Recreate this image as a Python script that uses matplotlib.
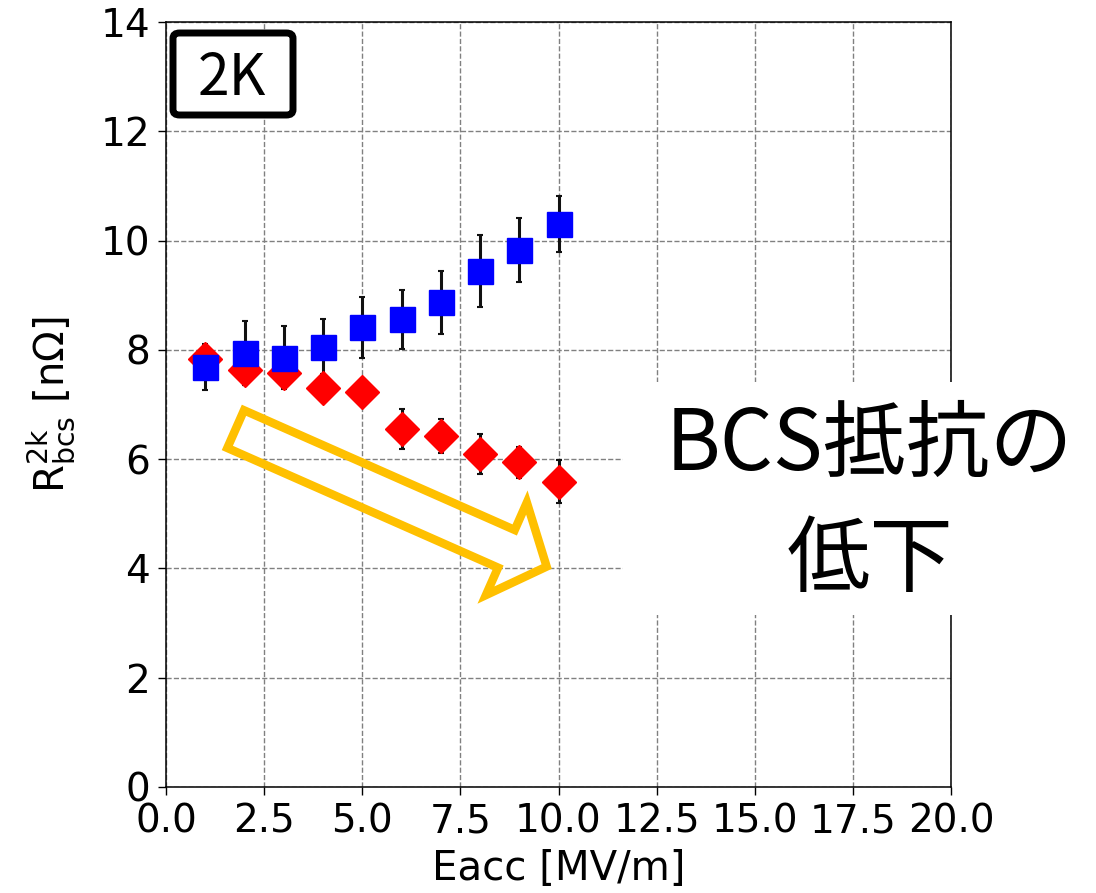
import numpy as np
import matplotlib
matplotlib.use("Agg")
import matplotlib.pyplot as plt
import matplotlib.patches as mpatches

# Eacc points [MV/m]
eacc = [1, 2, 3, 4, 5, 6, 7, 8, 9, 10]

# R_bcs at 2K [nOhm], two data sets with errors
r_blue = [7.68, 7.94, 7.86, 8.06, 8.41, 8.56, 8.87, 9.45, 9.83, 10.30]
e_blue = [0.42, 0.58, 0.58, 0.50, 0.55, 0.54, 0.58, 0.66, 0.58, 0.51]
r_red = [7.83, 7.64, 7.57, 7.31, 7.22, 6.55, 6.43, 6.09, 5.94, 5.59]
e_red = [0.20, 0.28, 0.25, 0.25, 0.20, 0.37, 0.31, 0.37, 0.29, 0.40]

W, H = 1096, 893
fig = plt.figure(figsize=(W / 100, H / 100), dpi=100)
ax = fig.add_axes([166 / W, 1 - 787 / H, (951 - 166) / W, (787 - 22) / H])

ax.errorbar(eacc, r_red, yerr=e_red, fmt='D', color='red', ms=17,
            ecolor='#111111', elinewidth=2.2, capsize=2.5, capthick=1.5)
ax.errorbar(eacc, r_blue, yerr=e_blue, fmt='s', color='blue', ms=18,
            ecolor='#111111', elinewidth=2.2, capsize=2.5, capthick=1.5)

ax.set_xlim(0, 20)
ax.set_ylim(0, 14)
ax.set_xticks(np.arange(0, 20.1, 2.5))
ax.set_yticks(np.arange(0, 14.1, 2))
ax.tick_params(labelsize=28, length=5.5, width=1, pad=6)
for s in ax.spines.values():
    s.set_linewidth(1.1)
ax.grid(True, linestyle='--', color='gray', linewidth=1)
ax.set_axisbelow(True)
ax.set_xlabel('Eacc [MV/m]', fontsize=29, labelpad=6)
ax.set_ylabel(r'$\mathrm{R^{2k}_{bcs}}$ [nΩ]', fontsize=29, labelpad=16)


def px(x, y):
    return (x / W, 1 - y / H)


# white panel behind the caption
panel = mpatches.Rectangle(px(623, 615), (1096 - 623) / W, (615 - 382) / H,
                           transform=fig.transFigure, facecolor='white',
                           edgecolor='none', zorder=3)
fig.add_artist(panel)

jp = ['Noto Sans CJK JP', 'DejaVu Sans']
fig.text(*px(870, 470), 'BCS抵抗の', fontsize=60, family=jp,
         ha='center', va='baseline', zorder=4)
fig.text(*px(870, 585), '低下', fontsize=60, family=jp,
         ha='center', va='baseline', zorder=4)

# temperature tag
tag = mpatches.FancyBboxPatch(px(173, 115), (293 - 173) / W, (115 - 33) / H,
                              boxstyle='round,pad=0,rounding_size=0.006',
                              transform=fig.transFigure, facecolor='white',
                              edgecolor='black', linewidth=5, zorder=3)
fig.add_artist(tag)
fig.text(*px(232, 95), '2K', fontsize=41, family=jp,
         ha='center', va='baseline', zorder=4)

# hollow arrow showing the downward trend
ang = np.deg2rad(23.85)
u = np.array([np.cos(ang), np.sin(ang)])
n = np.array([-np.sin(ang), np.cos(ang)])
tail = np.array([232.0, 427.5])
shape = [(4, -20.6), (300, -20.6), (300, -50.6), (344, 0),
         (300, 50.6), (300, 20.6), (4, 20.6)]
verts = [px(*(tail + s * u + w * n)) for s, w in shape]
arrow = mpatches.Polygon(verts, closed=True, transform=fig.transFigure,
                         facecolor='none', edgecolor='#FFC000',
                         linewidth=6.1, joinstyle='miter', zorder=5)
fig.add_artist(arrow)

fig.savefig('out.png', dpi=100)
